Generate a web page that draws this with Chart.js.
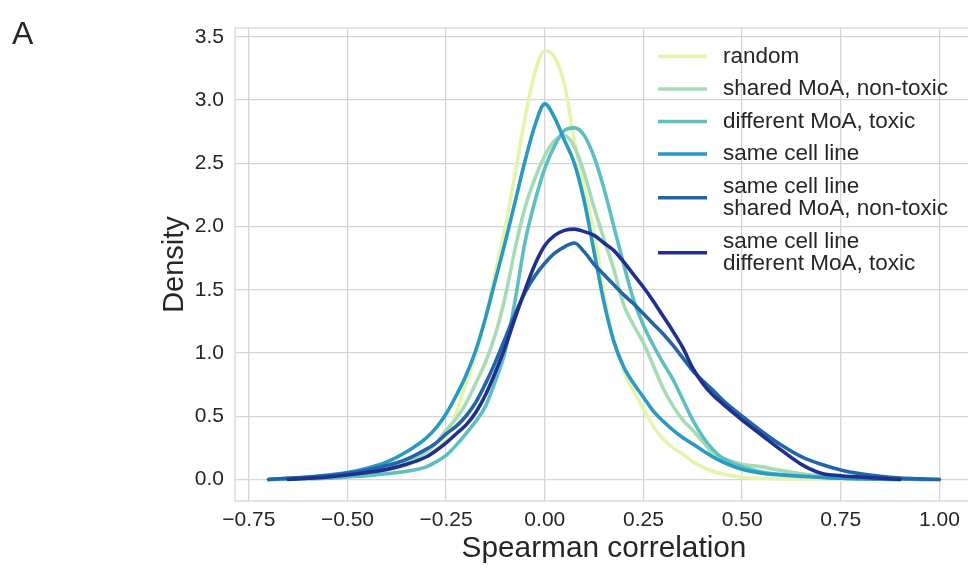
<!DOCTYPE html>
<html><head><meta charset="utf-8">
<script src="https://cdn.jsdelivr.net/npm/chart.js@4.4.1/dist/chart.umd.min.js"></script>
<style>
html,body{margin:0;padding:0;width:968px;height:569px;overflow:hidden;background:#fff;}
#wrap{position:absolute;left:0;top:0;width:990px;height:569px;}
#panel{position:absolute;left:12px;top:15px;font:32px "Liberation Sans",Arial,sans-serif;color:#262626;line-height:36px;}
</style></head><body>
<div id="wrap"><canvas id="c" width="990" height="569"></canvas></div>
<div id="panel">A</div>
<script>
// ---- data ----
const correlation = [-0.70,-0.65,-0.60,-0.55,-0.50,-0.45,-0.40,-0.35,-0.30,
  -0.275,-0.25,-0.225,-0.20,-0.175,-0.15,-0.125,-0.10,-0.075,-0.05,-0.025,
  0.00,0.025,0.05,0.075,0.10,0.125,0.15,0.175,0.20,0.225,0.25,0.275,0.30,0.325,0.35,0.375,0.40,0.425,0.45,
  0.50,0.55,0.60,0.65,0.70,0.75,0.80,0.85,0.90,0.95,1.00];

const randomDensity = [0.0,0.005,0.01,0.02,0.03,0.045,0.07,0.11,0.18,
  0.24,0.33,0.52,0.76,0.98,1.28,1.64,2.0,2.42,2.86,3.22,
  3.39,3.34,3.12,2.68,2.30,1.95,1.48,1.10,0.86,0.70,0.56,0.42,0.32,0.25,0.20,0.14,0.10,0.065,0.045,
  0.018,0.01,0.006,0.004,0.002,0.001,0.0,null,null,null,null];

const sharedNonToxic = [0.0,0.005,0.01,0.018,0.03,0.05,0.08,0.13,0.22,
  0.29,0.39,0.48,0.60,0.76,0.93,1.15,1.45,1.83,2.15,2.38,
  2.56,2.68,2.72,2.63,2.42,2.15,1.90,1.66,1.38,1.22,1.08,0.90,0.72,0.58,0.47,0.39,0.30,0.21,0.17,
  0.12,0.10,0.07,0.045,0.028,0.012,0.005,0.002,0.0,null,null];

const differentToxic = [0.0,0.003,0.006,0.01,0.02,0.03,0.045,0.065,0.10,
  0.14,0.19,0.27,0.36,0.46,0.58,0.78,1.02,1.42,1.88,2.20,
  2.46,2.64,2.76,2.78,2.72,2.55,2.30,2.00,1.70,1.42,1.22,1.06,0.92,0.79,0.63,0.47,0.34,0.24,0.17,
  0.10,0.06,0.04,0.028,0.018,0.01,0.005,0.002,0.0,null,null];

const sameCellLine = [0.0,0.01,0.02,0.035,0.055,0.09,0.14,0.22,0.33,
  0.41,0.52,0.66,0.82,1.02,1.28,1.58,1.88,2.20,2.52,2.80,
  2.97,2.86,2.68,2.50,2.20,1.80,1.40,1.09,0.89,0.76,0.65,0.54,0.46,0.39,0.33,0.28,0.23,0.18,0.14,
  0.08,0.05,0.035,0.025,0.016,0.01,0.006,0.003,0.002,0.001,0.0];

const sameCellShared = [0.0,0.01,0.018,0.03,0.05,0.075,0.11,0.16,0.24,
  0.29,0.36,0.42,0.50,0.61,0.76,0.93,1.12,1.31,1.48,1.61,
  1.71,1.79,1.84,1.87,1.80,1.70,1.62,1.54,1.46,1.39,1.31,1.23,1.15,1.06,0.96,0.86,0.78,0.71,0.63,
  0.50,0.38,0.27,0.18,0.12,0.075,0.045,0.025,0.012,0.005,0.0];

const sameCellDifferent = [null,0.0,0.01,0.02,0.035,0.055,0.08,0.12,0.18,
  0.23,0.29,0.36,0.43,0.53,0.67,0.85,1.05,1.28,1.50,1.70,
  1.85,1.93,1.97,1.98,1.96,1.93,1.87,1.81,1.72,1.62,1.52,1.41,1.29,1.17,1.04,0.88,0.76,0.67,0.60,
  0.47,0.35,0.23,0.12,0.05,0.03,0.02,0.01,0.0,null,null];

const seriesLabels = ['random','shared MoA, non-toxic','different MoA, toxic','same cell line',
  'same cell line\nshared MoA, non-toxic','same cell line\ndifferent MoA, toxic'];
const seriesValues = [randomDensity, sharedNonToxic, differentToxic, sameCellLine, sameCellShared, sameCellDifferent];

const xTickValues = [-0.75,-0.50,-0.25,0.00,0.25,0.50,0.75,1.00];
const xTickLabels = ['\u22120.75','\u22120.50','\u22120.25','0.00','0.25','0.50','0.75','1.00'];
const yTickValues = [0,0.5,1,1.5,2,2.5,3,3.5];
const yTickLabels = ['0.0','0.5','1.0','1.5','2.0','2.5','3.0','3.5'];

// ---- styles ----
const colors = ['#e4f4ad','#a6dcb5','#5ebfc0','#2a9ac4','#2166a9','#212f8f'];
const FONT = '"Liberation Sans", Arial, sans-serif';
const TEXT = '#262626';
const GRID = '#d6d6d6';

const datasets = seriesValues.map((vals, i) => ({
  label: seriesLabels[i],
  data: correlation.map((x, k) => ({x: x, y: vals[k]})).filter(p => p.y !== null),
  borderColor: colors[i],
  backgroundColor: colors[i],
  borderWidth: 3.6,
  pointRadius: 0,
  fill: false,
  cubicInterpolationMode: 'monotone',
  borderCapStyle: 'round',
  borderJoinStyle: 'round',
  order: seriesValues.length - i
}));

const framePlugin = {
  id: 'frame',
  beforeDatasetsDraw(chart) {
    const a = chart.chartArea, ctx = chart.ctx;
    ctx.save();
    ctx.strokeStyle = GRID; ctx.lineWidth = 1.3;
    ctx.strokeRect(a.left, a.top, a.right - a.left, a.bottom - a.top);
    ctx.restore();
  }
};

const legendPlugin = {
  id: 'innerLegend',
  afterDatasetsDraw(chart, args, o) {
    const ctx = chart.ctx;
    ctx.save();
    ctx.font = o.fontSize + 'px ' + FONT;
    ctx.fillStyle = TEXT;
    ctx.textBaseline = 'middle';
    ctx.textAlign = 'left';
    let y = o.top;
    chart.data.datasets.forEach(ds => {
      const lines = ds.label.split('\n');
      const mid = y + (lines.length - 1) * o.lineGap / 2;
      ctx.strokeStyle = ds.borderColor;
      ctx.lineWidth = o.handleWidth;
      ctx.lineCap = 'butt';
      ctx.beginPath();
      ctx.moveTo(o.handleX0, mid); ctx.lineTo(o.handleX1, mid); ctx.stroke();
      lines.forEach((t, k) => ctx.fillText(t, o.textX, y + k * o.lineGap));
      y += (lines.length - 1) * o.lineGap + o.rowGap;
    });
    ctx.restore();
  }
};

new Chart(document.getElementById('c'), {
  type: 'line',
  data: { datasets: datasets },
  plugins: [framePlugin, legendPlugin],
  options: {
    responsive: false,
    devicePixelRatio: 1,
    animation: false,
    layout: { padding: { left: 157.6, top: 28, right: 17, bottom: 0 } },
    plugins: {
      legend: { display: false },
      tooltip: { enabled: false },
      innerLegend: { top: 56.5, lineGap: 22.5, rowGap: 32.5, handleX0: 658, handleX1: 707, textX: 723, fontSize: 22.5, handleWidth: 3.6 }
    },
    scales: {
      x: {
        type: 'linear', min: -0.785, max: 1.085,
        afterBuildTicks: s => { s.ticks = xTickValues.map(v => ({value: v})); },
        afterFit: s => { s.height = 68; },
        ticks: { callback: (v, i) => xTickLabels[i], font: {family: FONT, size: 21}, color: TEXT, padding: 6.4, maxRotation: 0, autoSkip: false },
        grid: { color: GRID, lineWidth: 1.3, drawTicks: false },
        border: { display: false },
        title: { display: true, text: 'Spearman correlation', font: {family: FONT, size: 29.8}, color: TEXT, padding: {top: 0, bottom: 2.4} }
      },
      y: {
        type: 'linear', min: -0.17, max: 3.57,
        afterBuildTicks: s => { s.ticks = yTickValues.map(v => ({value: v})); },
        afterFit: s => { s.width = 77.4; },
        ticks: { callback: (v, i) => yTickLabels[i], font: {family: FONT, size: 21}, color: TEXT, padding: 11, autoSkip: false },
        grid: { color: GRID, lineWidth: 1.3, drawTicks: false },
        border: { display: false },
        title: { display: true, text: 'Density', font: {family: FONT, size: 29}, color: TEXT, padding: {top: 0, bottom: 0} }
      }
    }
  }
});
</script>
</body></html>
